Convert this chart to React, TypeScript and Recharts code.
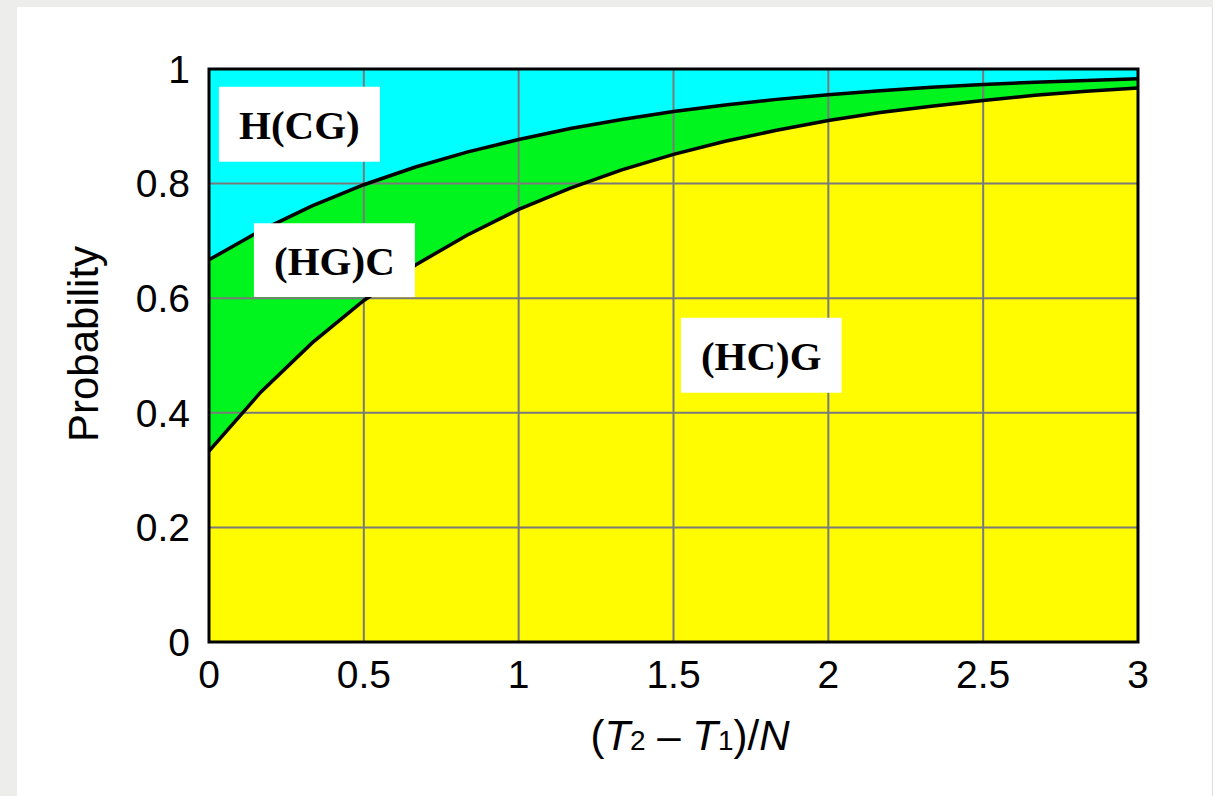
import {
  Area,
  ComposedChart,
  Line,
  ReferenceArea,
  ReferenceLine,
  XAxis,
  YAxis,
} from 'recharts';

// (T2 - T1)/N, sampled every 1/6
const xs = [0, 0.167, 0.333, 0.5, 0.667, 0.833, 1, 1.167, 1.333, 1.5, 1.667, 1.833, 2, 2.167, 2.333, 2.5, 2.667, 2.833, 3];
// boundary between (HC)G and (HG)C
const lowerCurve = [0.333, 0.436, 0.522, 0.596, 0.658, 0.71, 0.755, 0.792, 0.824, 0.851, 0.874, 0.893, 0.91, 0.924, 0.935, 0.945, 0.954, 0.961, 0.967];
// boundary between (HG)C and H(CG)
const upperCurve = [0.667, 0.718, 0.761, 0.798, 0.829, 0.855, 0.877, 0.896, 0.912, 0.926, 0.937, 0.947, 0.955, 0.962, 0.968, 0.973, 0.977, 0.98, 0.983];

const xTicks = [0, 0.5, 1, 1.5, 2, 2.5, 3];
const yTicks = [0, 0.2, 0.4, 0.6, 0.8, 1];
const xGrid = [0.5, 1, 1.5, 2, 2.5];
const yGrid = [0.2, 0.4, 0.6, 0.8];

const regionLabels = [
  { name: 'H(CG)', x1: 0.032, x2: 0.552, y1: 0.838, y2: 0.969 },
  { name: '(HG)C', x1: 0.145, x2: 0.665, y1: 0.602, y2: 0.731 },
  { name: '(HC)G', x1: 1.524, x2: 2.043, y1: 0.435, y2: 0.566 },
];

const data = xs.map((x, i) => ({ x, top: 1, upper: upperCurve[i], lower: lowerCurve[i] }));

const SANS = '"Liberation Sans", Arial, Helvetica, sans-serif';
const SERIF = '"Liberation Serif", "Times New Roman", serif';
const GRID = '#7a7a7a';

function YLabel() {
  const x = 98;
  const y = 344;
  return (
    <text x={x} y={y} transform={`rotate(-90, ${x}, ${y})`} textAnchor="middle" fontFamily={SANS} fontSize={42} fill="#000">
      Probability
    </text>
  );
}

function XLabel() {
  return (
    <text x={690} y={750} textAnchor="middle" fontFamily={SANS} fontSize={42} fill="#000">
      <tspan>(</tspan>
      <tspan fontStyle="italic">T</tspan>
      <tspan fontSize={28}>2</tspan>
      <tspan> – </tspan>
      <tspan fontStyle="italic">T</tspan>
      <tspan fontSize={28}>1</tspan>
      <tspan>)/</tspan>
      <tspan fontStyle="italic">N</tspan>
    </text>
  );
}

export default function App() {
  return (
    <div style={{ position: 'fixed', left: 0, top: 0, width: 1213, height: 796, background: '#ededeb', overflow: 'hidden' }}>
      <div style={{ position: 'absolute', left: 17, top: 7, width: 1195, height: 789, background: '#fff', borderRight: '1px solid #dcdcdc' }} />
      <div style={{ position: 'absolute', left: 0, top: 0 }}>
        <ComposedChart width={1213} height={796} data={data} margin={{ top: 69, right: 75, bottom: 94, left: 149 }}>
          <XAxis
            type="number"
            dataKey="x"
            domain={[0, 3]}
            ticks={xTicks}
            interval={0}
            axisLine={false}
            tickLine={false}
            tickMargin={12}
            height={60}
            tick={{ fill: '#000', fontSize: 39, fontFamily: SANS }}
            label={{ content: () => <XLabel /> }}
          />
          <YAxis
            type="number"
            domain={[0, 1]}
            ticks={yTicks}
            interval={0}
            axisLine={false}
            tickLine={false}
            tickMargin={13}
            width={60}
            tick={{ fill: '#000', fontSize: 39, fontFamily: SANS }}
            label={{ content: () => <YLabel /> }}
          />
          <Area dataKey="top" type="linear" stroke="none" fill="#00ffff" fillOpacity={1} isAnimationActive={false} dot={false} activeDot={false} />
          <Area dataKey="upper" type="linear" stroke="none" fill="#00f41e" fillOpacity={1} isAnimationActive={false} dot={false} activeDot={false} />
          <Area dataKey="lower" type="linear" stroke="none" fill="#fffb00" fillOpacity={1} isAnimationActive={false} dot={false} activeDot={false} />
          {xGrid.map((v) => (
            <ReferenceLine key={`gx${v}`} x={v} stroke={GRID} strokeWidth={2} zIndex={150} />
          ))}
          {yGrid.map((v) => (
            <ReferenceLine key={`gy${v}`} y={v} stroke={GRID} strokeWidth={2} zIndex={150} />
          ))}
          <Line dataKey="upper" type="linear" stroke="#000" strokeWidth={3.5} dot={false} activeDot={false} isAnimationActive={false} />
          <Line dataKey="lower" type="linear" stroke="#000" strokeWidth={3.5} dot={false} activeDot={false} isAnimationActive={false} />
          <ReferenceArea x1={0} x2={3} y1={0} y2={1} fill="none" stroke="#000" strokeWidth={3} zIndex={450} />
          {regionLabels.map((r) => (
            <ReferenceArea
              key={r.name}
              x1={r.x1}
              x2={r.x2}
              y1={r.y1}
              y2={r.y2}
              fill="#fff"
              fillOpacity={1}
              stroke="none"
              zIndex={500}
              label={{ value: r.name, position: 'center', fill: '#000', fontSize: 41, fontWeight: 700, fontFamily: SERIF }}
            />
          ))}
        </ComposedChart>
      </div>
    </div>
  );
}
